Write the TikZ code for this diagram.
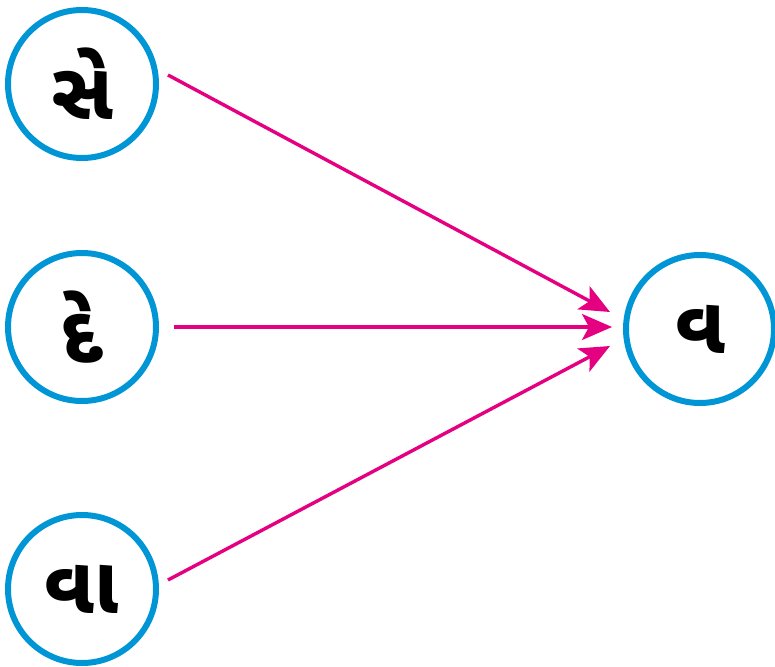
\documentclass[tikz,border=0pt]{standalone}
\usepackage{fontspec}
\newfontfamily\guj[Script=Gujarati]{Noto Sans Gujarati UI}
\usetikzlibrary{arrows.meta}
\definecolor{ringblue}{RGB}{0,150,214}
\definecolor{arrowpink}{RGB}{228,0,128}
\begin{document}
\begin{tikzpicture}[x=1pt,y=-1pt,
  ring/.style={circle,draw=ringblue,line width=6pt,minimum size=148pt,inner sep=0pt,
    font=\guj\bfseries\fontsize{80}{80}\selectfont},
  link/.style={draw=arrowpink,line width=3.4pt,-{Stealth[length=30pt,width=26pt,inset=7pt]}}]
\useasboundingbox (0,0) rectangle (775,666);
\node[ring] (se) at (82,84) {સે};
\node[ring] (de) at (82,327) {દે};
\node[ring] (va2) at (82,589) {વા};
\node[ring] (va) at (700,329) {વ};
\coordinate (s1) at (168,75);
\coordinate (s2) at (174,327);
\coordinate (s3) at (168,580);
\coordinate (t1) at (610,312);
\coordinate (t2) at (612,327);
\coordinate (t3) at (610,346);
\draw[link] (s1) -- (t1);
\draw[link] (s2) -- (t2);
\draw[link] (s3) -- (t3);
\end{tikzpicture}
\end{document}
